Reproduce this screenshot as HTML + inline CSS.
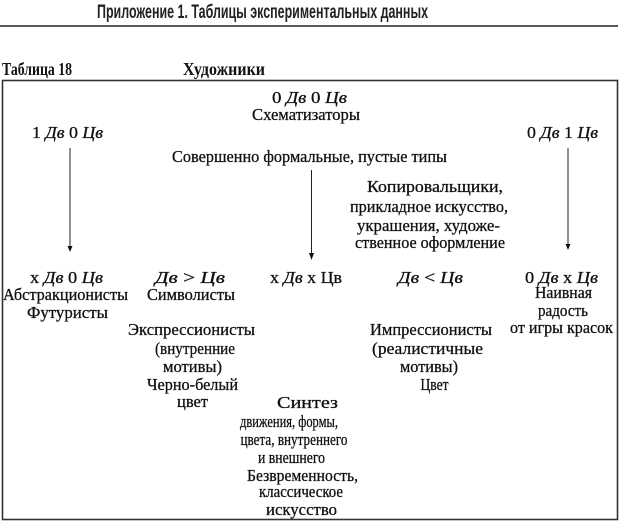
<!DOCTYPE html>
<html><head><meta charset="utf-8">
<style>
html,body{margin:0;padding:0;background:#fff;}
svg{display:block;}
.t{font-family:"Liberation Serif",serif;font-size:17px;fill:#111;stroke:#111;stroke-width:0.3;}
.i{font-style:italic;}
.h{font-family:"Liberation Serif",serif;font-size:18px;font-weight:bold;fill:#111;}
.ti{font-family:"Liberation Sans Narrow","Liberation Sans",sans-serif;font-size:19px;font-weight:bold;fill:#222;}
</style></head>
<body>
<svg width="620" height="524" viewBox="0 0 620 524" xmlns="http://www.w3.org/2000/svg">
<rect width="620" height="524" fill="#fff"/>
<text class="ti" x="97" y="18" textLength="331" lengthAdjust="spacingAndGlyphs">Приложение 1. Таблицы экспериментальных данных</text>
<line x1="0" y1="26" x2="618" y2="26" stroke="#222" stroke-width="1.5"/>

<text class="h" x="2" y="75" textLength="70" lengthAdjust="spacingAndGlyphs">Таблица 18</text>
<text class="h" x="183" y="75" textLength="82" lengthAdjust="spacingAndGlyphs">Художники</text>

<rect x="2.5" y="80.5" width="615" height="439" fill="none" stroke="#333" stroke-width="1.6"/>

<g stroke="#222" stroke-width="1">
<line x1="70" y1="148" x2="70" y2="247"/>
<line x1="311.5" y1="170" x2="311.5" y2="254"/>
<line x1="568" y1="148" x2="568" y2="245"/>
</g>
<g fill="#111">
<polygon points="67.5,246 72.5,246 70,252"/>
<polygon points="309,253 314,253 311.5,260"/>
<polygon points="565.5,244 570.5,244 568,250"/>
</g>

<g text-anchor="middle">
<text class="t" x="309.5" y="103" textLength="75" lengthAdjust="spacingAndGlyphs">0 <tspan class="i">Дв</tspan> 0 <tspan class="i">Цв</tspan></text>
<text class="t" x="306" y="120" textLength="108" lengthAdjust="spacingAndGlyphs">Схематизаторы</text>
<text class="t" x="67.5" y="138" textLength="71" lengthAdjust="spacingAndGlyphs">1 <tspan class="i">Дв</tspan> 0 <tspan class="i">Цв</tspan></text>
<text class="t" x="562.5" y="138" textLength="71" lengthAdjust="spacingAndGlyphs">0 <tspan class="i">Дв</tspan> 1 <tspan class="i">Цв</tspan></text>
<text class="t" x="309.5" y="162" textLength="275" lengthAdjust="spacingAndGlyphs">Совершенно формальные, пустые типы</text>

<text class="t" x="435" y="192" textLength="136" lengthAdjust="spacingAndGlyphs">Копировальщики,</text>
<text class="t" x="429" y="212" textLength="158" lengthAdjust="spacingAndGlyphs">прикладное искусство,</text>
<text class="t" x="428.5" y="231" textLength="143" lengthAdjust="spacingAndGlyphs">украшения, художе-</text>
<text class="t" x="430" y="248" textLength="150" lengthAdjust="spacingAndGlyphs">ственное оформление</text>

<text class="t" x="66.5" y="283" textLength="73" lengthAdjust="spacingAndGlyphs">х <tspan class="i">Дв</tspan> 0 <tspan class="i">Цв</tspan></text>
<text class="t" x="190" y="283" textLength="70" lengthAdjust="spacingAndGlyphs"><tspan class="i">Дв</tspan> &gt; <tspan class="i">Цв</tspan></text>
<text class="t" x="306" y="283" textLength="72" lengthAdjust="spacingAndGlyphs">х <tspan class="i">Дв</tspan> х Цв</text>
<text class="t" x="430.5" y="283" textLength="65" lengthAdjust="spacingAndGlyphs"><tspan class="i">Дв</tspan> &lt; <tspan class="i">Цв</tspan></text>
<text class="t" x="561.5" y="283" textLength="73" lengthAdjust="spacingAndGlyphs">0 <tspan class="i">Дв</tspan> х <tspan class="i">Цв</tspan></text>

<text class="t" x="65.5" y="300" textLength="125" lengthAdjust="spacingAndGlyphs">Абстракционисты</text>
<text class="t" x="67.5" y="318" textLength="81" lengthAdjust="spacingAndGlyphs">Футуристы</text>
<text class="t" x="191" y="300" textLength="88" lengthAdjust="spacingAndGlyphs">Символисты</text>

<text class="t" x="563.5" y="298" textLength="57" lengthAdjust="spacingAndGlyphs">Наивная</text>
<text class="t" x="563" y="316" textLength="50" lengthAdjust="spacingAndGlyphs">радость</text>
<text class="t" x="561.5" y="333" textLength="103" lengthAdjust="spacingAndGlyphs">от игры красок</text>

<text class="t" x="191.5" y="335" textLength="127" lengthAdjust="spacingAndGlyphs">Экспрессионисты</text>
<text class="t" x="195" y="354" textLength="80" lengthAdjust="spacingAndGlyphs">(внутренние</text>
<text class="t" x="192.5" y="372" textLength="59" lengthAdjust="spacingAndGlyphs">мотивы)</text>
<text class="t" x="192.5" y="390" textLength="91" lengthAdjust="spacingAndGlyphs">Черно-белый</text>
<text class="t" x="192.5" y="407" textLength="31" lengthAdjust="spacingAndGlyphs">цвет</text>

<text class="t" x="431" y="335" textLength="122" lengthAdjust="spacingAndGlyphs">Импрессионисты</text>
<text class="t" x="427.5" y="354" textLength="111" lengthAdjust="spacingAndGlyphs">(реалистичные</text>
<text class="t" x="429" y="372" textLength="58" lengthAdjust="spacingAndGlyphs">мотивы)</text>
<text class="t" x="434.5" y="390" textLength="28" lengthAdjust="spacingAndGlyphs">Цвет</text>

<text class="t" x="307.5" y="408" textLength="61" lengthAdjust="spacingAndGlyphs">Синтез</text>
<text class="t" x="289" y="427" textLength="98" lengthAdjust="spacingAndGlyphs">движения, формы,</text>
<text class="t" x="294" y="445" textLength="107" lengthAdjust="spacingAndGlyphs">цвета, внутреннего</text>
<text class="t" x="291.5" y="463" textLength="67" lengthAdjust="spacingAndGlyphs">и внешнего</text>
<text class="t" x="302.5" y="481" textLength="111" lengthAdjust="spacingAndGlyphs">Безвременность,</text>
<text class="t" x="301" y="497" textLength="84" lengthAdjust="spacingAndGlyphs">классическое</text>
<text class="t" x="301.5" y="515" textLength="71" lengthAdjust="spacingAndGlyphs">искусство</text>
</g>
</svg>
</body></html>
